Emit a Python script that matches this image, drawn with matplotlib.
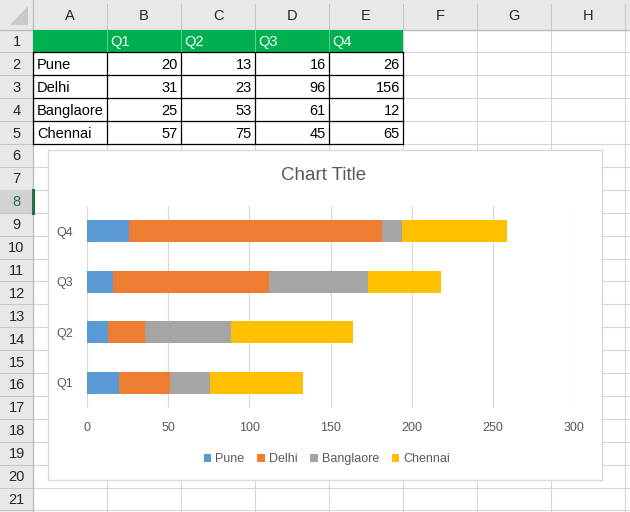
import matplotlib
matplotlib.use("Agg")
import matplotlib.pyplot as plt
from matplotlib.patches import Rectangle, Polygon
import numpy as np

# ---------------- data ----------------
cities = ["Pune", "Delhi", "Banglaore", "Chennai"]
quarters = ["Q1", "Q2", "Q3", "Q4"]
pune = [20, 13, 16, 26]
delhi = [31, 23, 96, 156]
banglaore = [25, 53, 61, 12]
chennai = [57, 75, 45, 65]
series = [pune, delhi, banglaore, chennai]
colors = ["#5B9BD5", "#ED7D31", "#A5A5A5", "#FFC000"]
col_letters = ["A", "B", "C", "D", "E", "F", "G", "H"]
xticks = [0, 50, 100, 150, 200, 250, 300]

FONT = ["Liberation Sans", "DejaVu Sans"]
plt.rcParams["font.family"] = FONT

W, H = 630, 512
fig = plt.figure(figsize=(W / 100, H / 100), dpi=100)
bg = fig.add_axes([0, 0, 1, 1])
bg.set_xlim(0, W)
bg.set_ylim(H, 0)
bg.axis("off")

# ---------------- sheet geometry ----------------
head_h = 29.5
row_h = 22.9
rn_w = 33
col_w = 74
col_edges = [rn_w + i * col_w for i in range(9)]  # A start ... H end
row_edges = [head_h + i * row_h for i in range(22)]

grid_c = "#D4D4D4"
head_bg = "#E8E8E8"
head_line = "#C6C6C6"

bg.add_patch(Rectangle((0, 0), W, H, facecolor="white", edgecolor="none", zorder=0))
for x in col_edges[1:]:
    bg.plot([x, x], [head_h, H], color=grid_c, lw=0.8, zorder=1)
for y in row_edges:
    bg.plot([rn_w, W], [y, y], color=grid_c, lw=0.8, zorder=1)

# column header bar
bg.add_patch(Rectangle((0, 0), W, head_h, facecolor=head_bg, edgecolor="none", zorder=2))
bg.plot([0, W], [head_h, head_h], color="#BDBDBD", lw=1.0, zorder=3)
for x in col_edges[1:]:
    bg.plot([x, x], [4, head_h], color=head_line, lw=0.8, zorder=3)
for i, letter in enumerate(col_letters):
    cx = (col_edges[i] + col_edges[i + 1]) / 2
    bg.text(cx, head_h / 2 + 1, letter, ha="center", va="center", fontsize=10.5,
            color="#262626", zorder=4)
bg.add_patch(Polygon([[28, 6], [28, 25], [10, 25]], closed=True, facecolor="#C9C9C9",
                     edgecolor="none", zorder=4))

# row header column
bg.add_patch(Rectangle((0, head_h), rn_w, H - head_h, facecolor=head_bg, edgecolor="none", zorder=2))
bg.plot([rn_w, rn_w], [0, H], color="#BDBDBD", lw=1.0, zorder=3)
for r in range(1, 22):
    y0 = row_edges[r - 1]
    y1 = row_edges[r]
    if r == 8:
        bg.add_patch(Rectangle((0, y0), rn_w, row_h, facecolor="#D2D2D2", edgecolor="none", zorder=3))
        bg.plot([rn_w - 0.5, rn_w - 0.5], [y0, y1], color="#217346", lw=2.2, zorder=5)
        tc = "#217346"
    else:
        tc = "#262626"
    bg.plot([0, rn_w], [y1, y1], color=head_line, lw=0.8, zorder=3)
    bg.text(rn_w / 2, (y0 + y1) / 2 + 1, str(r), ha="center", va="center",
            fontsize=10.5, color=tc, zorder=4)

# ---------------- data table (A1:E5) ----------------
green = "#00B050"
bg.add_patch(Rectangle((col_edges[0], row_edges[0]), col_edges[5] - col_edges[0], row_h,
                       facecolor=green, edgecolor="none", zorder=5))
for j, q in enumerate(quarters):
    x0 = col_edges[1 + j]
    bg.text(x0 + 3, row_edges[0] + row_h / 2 + 1, q, ha="left", va="center",
            fontsize=10.5, color="white", zorder=6)
for i, city in enumerate(cities):
    yc = row_edges[1 + i] + row_h / 2 + 1
    bg.text(col_edges[0] + 4, yc, city, ha="left", va="center", fontsize=10.5,
            color="black", zorder=6)
    for j in range(4):
        bg.text(col_edges[2 + j] - 3, yc, str(series[i][j]), ha="right", va="center",
                fontsize=10.5, color="black", zorder=6)
for x in col_edges[0:6]:
    bg.plot([x, x], [row_edges[1], row_edges[5]], color="black", lw=0.9, zorder=6)
for x in col_edges[1:5]:
    bg.plot([x, x], [row_edges[0], row_edges[1]], color="#5FD08F", lw=0.7, zorder=6)
for y in row_edges[1:6]:
    bg.plot([col_edges[0], col_edges[5]], [y, y], color="black", lw=0.9, zorder=6)

# ---------------- chart ----------------
cx0, cy0, cx1, cy1 = 47.5, 149.5, 602, 480
bg.add_patch(Rectangle((cx0, cy0), cx1 - cx0, cy1 - cy0, facecolor="white",
                       edgecolor="#D9D9D9", lw=1.0, zorder=10))
bg.text((cx0 + cx1) / 2 - 1, 176, "Chart Title", ha="center", va="center",
        fontsize=13.5, color="#595959", zorder=11)

px0, px1 = 87, 574
py0, py1 = 206, 408
ax = fig.add_axes([px0 / W, 1 - py1 / H, (px1 - px0) / W, (py1 - py0) / H], zorder=20)
ax.patch.set_alpha(0)
ypos = np.arange(len(quarters))
left = np.zeros(len(quarters))
for name, vals, c in zip(cities, series, colors):
    ax.barh(ypos, vals, left=left, height=0.44, color=c, edgecolor="none",
            label=name, zorder=3)
    left = left + np.array(vals)
ax.set_xlim(0, 300)
ax.set_ylim(-0.5, 3.5)
ax.set_xticks(xticks)
ax.set_xticklabels([str(t) for t in xticks])
ax.set_yticks(ypos)
ax.set_yticklabels(quarters)
ax.grid(axis="x", color="#D9D9D9", lw=0.9, zorder=0)
ax.set_axisbelow(True)
for s in ax.spines.values():
    s.set_visible(False)
ax.tick_params(axis="both", length=0, labelsize=9, labelcolor="#595959")
ax.tick_params(axis="x", pad=10)
ax.tick_params(axis="y", pad=10)

leg = ax.legend(loc="center", bbox_to_anchor=(327 / W, 1 - 459 / H),
                bbox_transform=fig.transFigure, ncol=4, frameon=False,
                handlelength=0.6, handleheight=0.6, handletextpad=0.35,
                columnspacing=1.0, fontsize=9)
for t in leg.get_texts():
    t.set_color("#595959")

fig.savefig("out.png", dpi=100)
